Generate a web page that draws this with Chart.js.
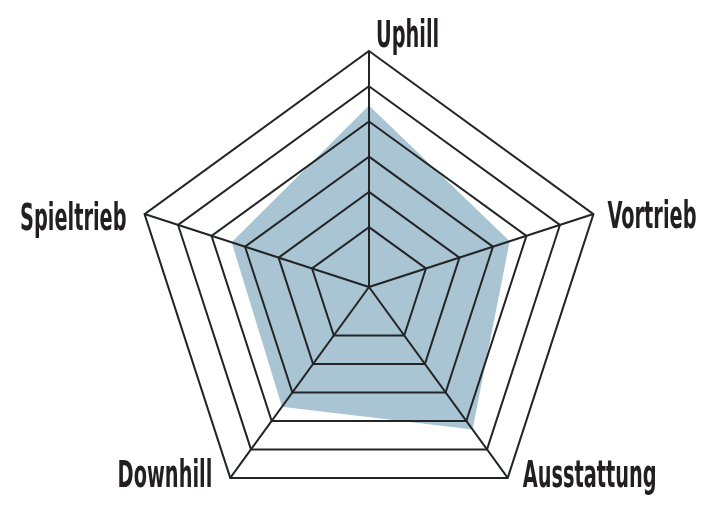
<!DOCTYPE html>
<html>
<head>
<meta charset="utf-8">
<script src="https://cdn.jsdelivr.net/npm/chart.js@4/dist/chart.umd.min.js"></script>
<style>
  html, body { margin: 0; padding: 0; background: #fff; }
  #wrap { width: 712px; height: 523px; position: relative; }
</style>
</head>
<body>
<div id="wrap"><canvas id="radar"></canvas></div>
<script>
// axes, clockwise from the top
const axisLabels = ['Uphill', 'Vortrieb', 'Ausstattung', 'Downhill', 'Spieltrieb'];
// score, in ring units (ring 1 = innermost, ring 6 = outer)
const scores = [4.45, 3.5, 4.3, 3.5, 3.4];
// the six pentagon rings
const ringLevels = [1, 2, 3, 4, 5, 6];

// the spokes meet well inside the first ring, so the scale starts below 0
const scaleMin = -0.7;
const scaleMax = 6;

// where each label sits relative to its outer vertex
const labelPlacement = [
  { align: 'left', dx: 7, dy: -4 },
  { align: 'left', dx: 14, dy: 14 },
  { align: 'left', dx: 15, dy: 9 },
  { align: 'right', dx: -18, dy: 9 },
  { align: 'right', dx: -18, dy: 16 }
];
// the labels are a very narrow face; squeeze whatever font we get so
// "Ausstattung" comes out about 134px wide like in the print
const labelFont = 'bold 37px "Liberation Sans Narrow", "DejaVu Sans Condensed", "Liberation Sans", sans-serif';
const refWord = 'Ausstattung';
const refWidth = 134;

const axisLabelPlugin = {
  id: 'axisLabels',
  afterDraw(chart) {
    const scale = chart.scales.r;
    const ctx = chart.ctx;
    ctx.save();
    ctx.font = labelFont;
    ctx.fillStyle = '#231f20';
    ctx.textBaseline = 'alphabetic';
    ctx.textAlign = 'left';
    const squeeze = refWidth / ctx.measureText(refWord).width;
    axisLabels.forEach((text, i) => {
      const p = scale.getPointPosition(i, scale.getDistanceFromCenterForValue(scaleMax));
      const o = labelPlacement[i];
      const w = ctx.measureText(text).width * squeeze;
      const x = o.align === 'right' ? p.x + o.dx - w : p.x + o.dx;
      ctx.save();
      ctx.translate(x, p.y + o.dy);
      ctx.scale(squeeze, 1);
      ctx.fillText(text, 0, 0);
      ctx.restore();
    });
    ctx.restore();
  }
};

const ctx = document.getElementById('radar');

new Chart(ctx, {
  type: 'radar',
  data: {
    labels: axisLabels,
    datasets: [{
      data: scores,
      fill: 'start',
      backgroundColor: '#a9c4d3',
      borderWidth: 0,
      pointRadius: 0
    }]
  },
  options: {
    responsive: true,
    maintainAspectRatio: false,
    animation: false,
    layout: { padding: { top: 51, bottom: 0, left: 26, right: 0 } },
    plugins: {
      legend: { display: false },
      tooltip: { enabled: false }
    },
    scales: {
      r: {
        min: scaleMin,
        max: scaleMax,
        afterBuildTicks: (scale) => {
          scale.ticks = [scaleMin].concat(ringLevels).map(v => ({ value: v }));
        },
        ticks: { display: false },
        pointLabels: { display: false },
        grid: { z: 1, color: '#222426', lineWidth: 2 },
        angleLines: { color: '#222426', lineWidth: 2 }
      }
    }
  },
  plugins: [axisLabelPlugin]
});
</script>
</body>
</html>
